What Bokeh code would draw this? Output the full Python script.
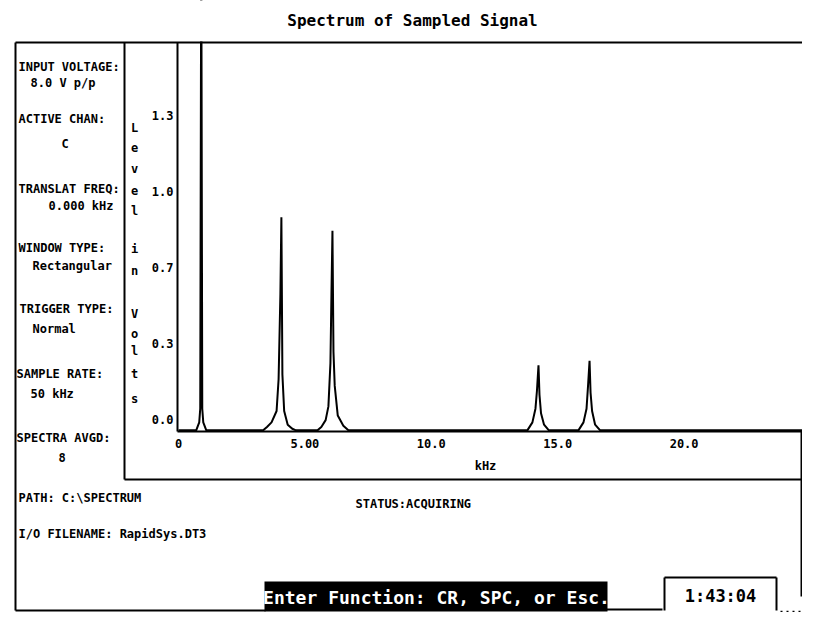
from bokeh.plotting import figure
from bokeh.models import Range1d
from bokeh.core.properties import value
from bokeh.embed import file_html
from bokeh.resources import INLINE

# ---------------- data ----------------
freq_khz = [0.00, 0.70, 0.82, 0.86, 0.90, 0.94, 0.98, 1.10,
            3.35, 3.50, 3.68, 3.88, 3.96, 4.03, 4.07, 4.11, 4.18, 4.32, 4.50, 4.65,
            5.50, 5.65, 5.82, 5.93, 6.01, 6.05, 6.09, 6.13, 6.18, 6.30, 6.52, 6.72,
            13.80, 14.00, 14.12, 14.18, 14.24, 14.28, 14.34, 14.46, 14.65,
            15.82, 16.02, 16.14, 16.20, 16.26, 16.30, 16.36, 16.48, 16.68,
            25.00]
level_v = [0.005, 0.005, 0.04, 0.10, 2.20, 0.10, 0.04, 0.005,
           0.005, 0.02, 0.04, 0.09, 0.23, 0.60, 0.94, 0.25, 0.09, 0.03, 0.012, 0.005,
           0.005, 0.02, 0.05, 0.11, 0.30, 0.60, 0.88, 0.35, 0.20, 0.07, 0.025, 0.005,
           0.005, 0.04, 0.10, 0.18, 0.29, 0.16, 0.08, 0.03, 0.005,
           0.005, 0.04, 0.10, 0.20, 0.31, 0.17, 0.09, 0.03, 0.005,
           0.005]

xtick_khz = [0, 5, 10, 15, 20]
xtick_labels = ["0", "5.00", "10.0", "15.0", "20.0"]
ytick_v = [0.0, 1 / 3, 2 / 3, 1.0, 4 / 3]
ytick_labels = ["0.0", "0.3", "0.7", "1.0", "1.3"]

info_labels = ["INPUT VOLTAGE:", "ACTIVE CHAN:", "TRANSLAT FREQ:", "WINDOW TYPE:",
               "TRIGGER TYPE:", "SAMPLE RATE:", "SPECTRA AVGD:"]
info_values = ["8.0 V p/p", "C", "0.000 kHz", "Rectangular", "Normal", "50 kHz", "8"]
ylabel_letters = list("Levelin") + list("Volts")

title_text = "Spectrum of Sampled Signal"
xaxis_title = "kHz"
path_text = "PATH: C:\\SPECTRUM"
status_text = "STATUS:ACQUIRING"
file_text = "I/O FILENAME: RapidSys.DT3"
prompt_text = "Enter Function: CR, SPC, or Esc."
clock_text = "1:43:04"

# ---------------- layout (pixel positions on the canvas) ----------------
FONT = value("DejaVu Sans Mono")
W, H = 802, 612
info_x = [18, 18, 18, 18, 19, 16, 16]
info_y = [66, 118, 188, 247, 308, 373, 437]
val_x = [30, 61, 48, 32, 32, 30, 58]
val_y = [82, 143, 205, 265, 328, 393, 457]
letter_y = [127, 147, 168, 190, 210, 248, 270, 313, 333, 350, 373, 398]

p = figure(width=W, height=H, x_range=Range1d(0, W), y_range=Range1d(H, 0),
           x_axis_location=None, y_axis_location=None, toolbar_location=None,
           output_backend="svg", min_border=0, outline_line_color=None,
           background_fill_color="white", border_fill_color="white")
p.grid.visible = False

# data scales: 0 kHz at x 178, 25.28 px per kHz; 0 V at y 431, 228 px per volt
PX_KHZ, X0 = 25.28, 178
PX_V, Y0 = 228.0, 431
p.extra_x_ranges = {"khz": Range1d(-X0 / PX_KHZ, (W - X0) / PX_KHZ)}
p.extra_y_ranges = {"lvl": Range1d(-(H - Y0) / PX_V, Y0 / PX_V)}

# spectrum trace
p.line(x=freq_khz, y=level_v, x_range_name="khz", y_range_name="lvl",
       line_color="black", line_width=2)

# mask the off-scale part above the plot area
p.quad(left=176, right=W, top=0, bottom=41, fill_color="white", line_color=None)

# frame lines
seg_x0 = [15, 15, 124, 177, 177, 124, 801, 15, 606]
seg_y0 = [42, 42, 42, 42, 431, 479, 431, 610, 609]
seg_x1 = [W, 15, 124, 177, W, W, 801, 265, 662]
seg_y1 = [42, 610, 479, 431, 431, 479, 596, 610, 609]
p.segment(x0=seg_x0, y0=seg_y0, x1=seg_x1, y1=seg_y1, line_color="black", line_width=2)

# clock box
p.segment(x0=[664, 664, 776], y0=[577, 577, 577], x1=[664, 776, 776], y1=[610, 577, 610],
          line_color="black", line_width=2)
p.segment(x0=[780], y0=[611], x1=[W], y1=[611], line_color="black", line_width=1.5,
          line_dash="2 4")

# prompt bar
p.quad(left=264, right=607, top=581, bottom=611, fill_color="black", line_color=None)

common = dict(text_font=FONT, text_font_style="bold", text_color="black")

# title
p.text(x=[412], y=[20], text=[title_text], text_align="center", text_baseline="middle",
       text_font_size="16px", **common)

# tick labels through the data scales
p.text(x=xtick_khz, y=[0] * len(xtick_khz), text=xtick_labels, x_range_name="khz",
       y_range_name="lvl", y_offset=12, text_align="center", text_baseline="middle",
       text_font_size="12px", **common)
p.text(x=[0] * len(ytick_v), y=ytick_v, text=ytick_labels, x_range_name="khz",
       y_range_name="lvl", x_offset=-5, y_offset=-12, text_align="right",
       text_baseline="middle", text_font_size="12px", **common)

# axis titles
p.text(x=[134] * len(ylabel_letters), y=letter_y, text=ylabel_letters, text_align="center",
       text_baseline="middle", text_font_size="12px", **common)
p.text(x=[485], y=[465], text=[xaxis_title], text_align="center", text_baseline="middle",
       text_font_size="12px", **common)

# info panel
p.text(x=info_x, y=info_y, text=info_labels, text_align="left", text_baseline="middle",
       text_font_size="12px", **common)
p.text(x=val_x, y=val_y, text=info_values, text_align="left", text_baseline="middle",
       text_font_size="12px", **common)

# bottom panel
p.text(x=[18, 355, 18], y=[497, 503, 533], text=[path_text, status_text, file_text],
       text_align="left", text_baseline="middle", text_font_size="12px", **common)
p.text(x=[436], y=[597], text=[prompt_text], text_align="center", text_baseline="middle",
       text_font_size="18px", text_font=FONT, text_font_style="bold", text_color="white")
p.text(x=[720], y=[595], text=[clock_text], text_align="center", text_baseline="middle",
       text_font_size="17px", **common)

open("out.html", "w").write(file_html(p, INLINE))
